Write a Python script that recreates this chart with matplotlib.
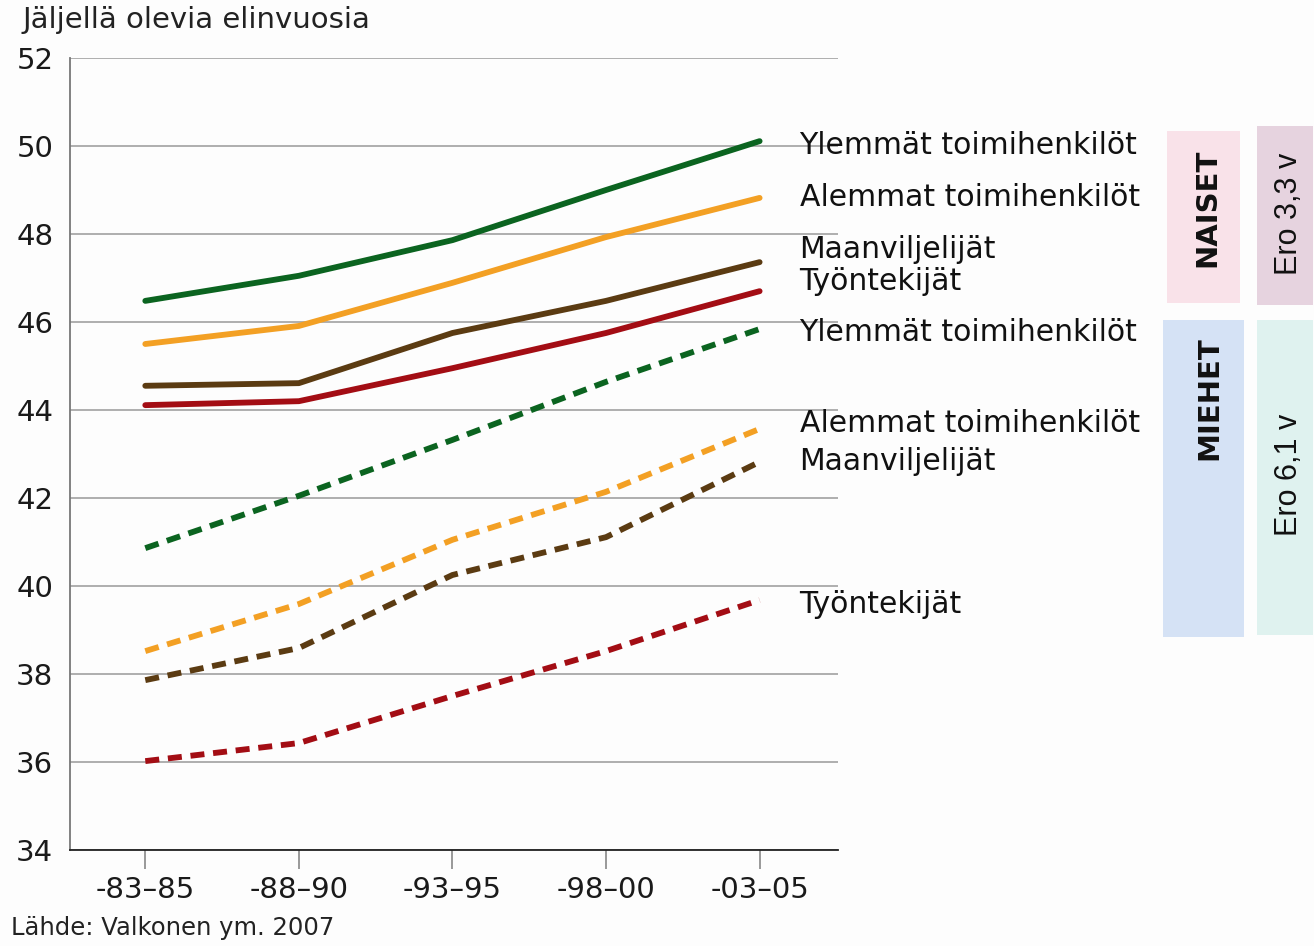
import matplotlib.pyplot as plt
from matplotlib.patches import Rectangle

# periods and life expectancy values
periods = ["-83\u201385", "-88\u201390", "-93\u201395", "-98\u201300", "-03\u201305"]

naiset_ylemmat = [46.48, 47.05, 47.86, 49.0, 50.11]
naiset_alemmat = [45.5, 45.91, 46.89, 47.93, 48.82]
naiset_maanvilj = [44.55, 44.61, 45.75, 46.48, 47.36]
naiset_tyont = [44.11, 44.2, 44.95, 45.75, 46.7]

miehet_ylemmat = [40.86, 42.05, 43.32, 44.64, 45.84]
miehet_alemmat = [38.52, 39.59, 41.05, 42.14, 43.57]
miehet_maanvilj = [37.86, 38.59, 40.25, 41.11, 42.82]
miehet_tyont = [36.02, 36.43, 37.5, 38.52, 39.68]

yticks = [34, 36, 38, 40, 42, 44, 46, 48, 50, 52]

label_text = ["Ylemmät toimihenkilöt", "Alemmat toimihenkilöt", "Maanviljelijät", "Työntekijät",
              "Ylemmät toimihenkilöt", "Alemmat toimihenkilöt", "Maanviljelijät", "Työntekijät"]
label_y = [50.02, 48.82, 47.64, 46.91, 45.77, 43.70, 42.82, 39.59]

green = "#0b6420"
orange = "#f3a024"
brown = "#5b3b12"
red = "#a30d14"

fig = plt.figure(figsize=(13.14, 9.46), dpi=100, facecolor="#fdfdfd")
ax = fig.add_axes([0.0533, 0.1015, 0.5844, 0.8372])
ax.set_facecolor("#fdfdfd")

x = list(range(len(periods)))
lw = 4.2
dash = (2.4, 1.5)
for vals, c in [(naiset_ylemmat, green), (naiset_alemmat, orange),
                (naiset_maanvilj, brown), (naiset_tyont, red)]:
    ax.plot(x, vals, color=c, lw=lw, solid_capstyle="round", zorder=3)
for vals, c in [(miehet_ylemmat, green), (miehet_alemmat, orange),
                (miehet_maanvilj, brown), (miehet_tyont, red)]:
    ax.plot(x, vals, color=c, lw=lw, dashes=dash, dash_capstyle="butt", zorder=3)

ax.set_xlim(-0.49, 4.51)
ax.set_ylim(34, 52)
ax.set_yticks(yticks)
ax.set_yticklabels([str(v) for v in yticks], fontsize=21, color="#1a1a1a")
ax.set_xticks(x)
ax.set_xticklabels(periods, fontsize=21, color="#1a1a1a")
ax.tick_params(axis="y", length=0, pad=12)
ax.tick_params(axis="x", length=14, width=1.2, color="#888888", pad=5, direction="out")
ax.yaxis.grid(True, color="#a8a8a8", lw=1.3)
ax.set_axisbelow(True)
for s in ["right", "top"]:
    ax.spines[s].set_visible(False)
ax.spines["left"].set_color("#777777")
ax.spines["left"].set_linewidth(1.3)
ax.spines["bottom"].set_color("#222222")
ax.spines["bottom"].set_linewidth(1.3)

for t, yv in zip(label_text, label_y):
    ax.text(4.26, yv, t, fontsize=21.5, color="#111111", va="center", ha="left", clip_on=False)

fig.text(0.017, 0.979, "Jäljellä olevia elinvuosia", fontsize=21, color="#222222", va="center", ha="left")
fig.text(0.008, 0.006, "Lähde: Valkonen ym. 2007", fontsize=17.5, color="#222222", va="bottom", ha="left")

W, H = 1314, 946
def box(x0, y0, x1, y1, color):
    fig.patches.append(Rectangle((x0 / W, 1 - y1 / H), (x1 - x0) / W, (y1 - y0) / H,
                                 transform=fig.transFigure, facecolor=color, edgecolor="none"))

box(1167, 131, 1240, 303, "#f9e2e9")
box(1257, 126, 1313, 305, "#e6d3df")
box(1163, 320, 1244, 637, "#d5e2f5")
box(1257, 320, 1313, 635, "#dff2ef")

fig.text(1207 / W, 1 - 208 / H, "NAISET", rotation=90, fontsize=21, fontweight="bold",
         ha="center", va="center", color="#111111")
fig.text(1209 / W, 1 - 398 / H, "MIEHET", rotation=90, fontsize=21, fontweight="bold",
         ha="center", va="center", color="#111111")
fig.text(1289 / W, 1 - 214 / H, "Ero 3,3 v", rotation=90, fontsize=22,
         family=["Liberation Sans", "DejaVu Sans"], ha="center", va="center", color="#111111")
fig.text(1289 / W, 1 - 475 / H, "Ero 6,1 v", rotation=90, fontsize=22,
         family=["Liberation Sans", "DejaVu Sans"], ha="center", va="center", color="#111111")

fig.savefig("out.png", dpi=100, facecolor=fig.get_facecolor())
